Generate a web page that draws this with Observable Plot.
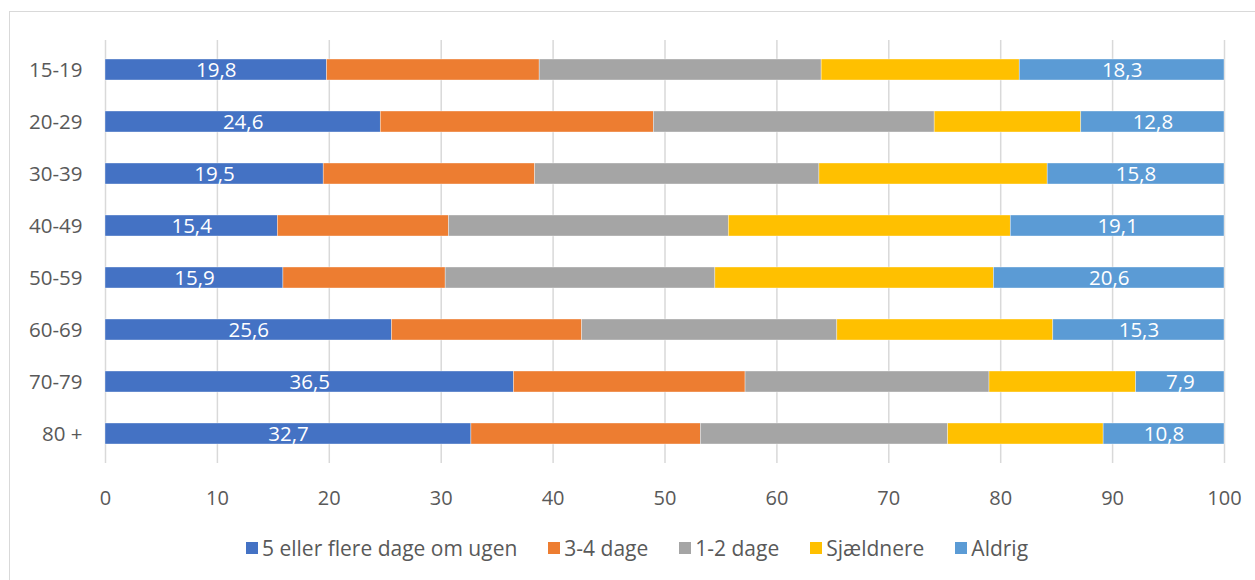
<!DOCTYPE html>
<html>
<head>
<meta charset="utf-8">
<script src="https://cdn.jsdelivr.net/npm/d3@7"></script>
<script src="https://cdn.jsdelivr.net/npm/@observablehq/plot@0.6"></script>
<style>
  html, body { margin: 0; padding: 0; background: #fff; }
  body { position: relative; width: 1255px; height: 580px; overflow: hidden; font-family: "Open Sans", sans-serif; }
  #frame { position: absolute; left: 9px; top: 11px; width: 1300px; height: 600px; border-left: 1.5px solid #d9d9d9; border-top: 1.5px solid #d9d9d9; }
  #chart { position: absolute; left: 0; top: 0; }
  #legend { position: absolute; left: 246px; top: 534px; display: flex; align-items: center; font-size: 21px; color: #595959; white-space: nowrap; }
  .item { display: flex; align-items: center; margin-right: 31px; }
  .sw { width: 12px; height: 12px; margin-right: 4px; }
</style>
</head>
<body>
<div id="frame"></div>
<div id="chart"></div>
<div id="legend"></div>
<script>
const categories = ["15-19", "20-29", "30-39", "40-49", "50-59", "60-69", "70-79", "80 +"];
const seriesNames = ["5 eller flere dage om ugen", "3-4 dage", "1-2 dage", "Sjældnere", "Aldrig"];
const seriesColors = ["#4472C4", "#ED7D31", "#A5A5A5", "#FFC000", "#5B9BD5"];
const fivePlus  = [19.8, 24.6, 19.5, 15.4, 15.9, 25.6, 36.5, 32.7];
const threeFour = [19.0, 24.4, 18.9, 15.3, 14.5, 17.0, 20.7, 20.5];
const oneTwo    = [25.2, 25.1, 25.4, 25.0, 24.1, 22.8, 21.8, 22.1];
const seldom    = [17.7, 13.1, 20.4, 25.2, 24.9, 19.3, 13.1, 13.9];
const never     = [18.3, 12.8, 15.8, 19.1, 20.6, 15.3, 7.9, 10.8];
const xTicks = [0, 10, 20, 30, 40, 50, 60, 70, 80, 90, 100];

const seriesValues = [fivePlus, threeFour, oneTwo, seldom, never];
const data = [];
seriesNames.forEach((s, si) => {
  categories.forEach((c, ci) => data.push({cat: c, series: s, value: seriesValues[si][ci]}));
});
const fmt = v => v.toFixed(1).replace(".", ",");
const firstData = categories.map((c, i) => ({cat: c, value: fivePlus[i]}));
const lastData = categories.map((c, i) => ({cat: c, value: never[i]}));

const chart = Plot.plot({
  width: 1255,
  height: 525,
  marginTop: 40,
  marginBottom: 62,
  marginLeft: 105,
  marginRight: 31,
  style: {fontFamily: "'Open Sans', sans-serif", background: "transparent"},
  x: {domain: [0, 100]},
  y: {domain: categories, paddingInner: 0.6, paddingOuter: 0.3},
  color: {domain: seriesNames, range: seriesColors},
  marks: [
    Plot.ruleX(xTicks, {stroke: "#d9d9d9", strokeWidth: 1.5}),
    Plot.barX(data, Plot.stackX({x: "value", y: "cat", fill: "series", order: null, stroke: "#ffffff", strokeWidth: 0.6, strokeOpacity: 0.6})),
    Plot.text(firstData, {x: d => d.value / 2, y: "cat", text: d => fmt(d.value), fill: "white", fontSize: 20.5}),
    Plot.text(lastData, {x: d => 100 - d.value / 2, y: "cat", text: d => fmt(d.value), fill: "white", fontSize: 20.5}),
    Plot.axisX({ticks: xTicks, tickSize: 0, tickPadding: 27, fontSize: 20, fill: "#595959", label: null, tickFormat: d => String(d)}),
    Plot.axisY({tickSize: 0, tickPadding: 23, fontSize: 20.5, fill: "#595959", label: null})
  ]
});
document.getElementById("chart").appendChild(chart);

const legend = document.getElementById("legend");
seriesNames.forEach((s, i) => {
  const it = document.createElement("div");
  it.className = "item";
  const sw = document.createElement("div");
  sw.className = "sw";
  sw.style.background = seriesColors[i];
  const t = document.createElement("span");
  t.textContent = s;
  it.appendChild(sw);
  it.appendChild(t);
  legend.appendChild(it);
});
</script>
</body>
</html>
